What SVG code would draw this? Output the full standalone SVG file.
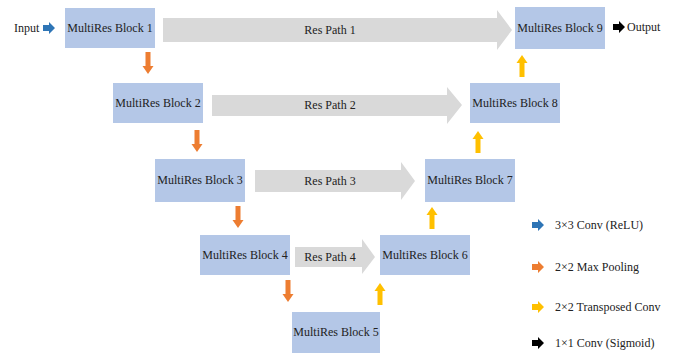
<svg xmlns="http://www.w3.org/2000/svg" width="674" height="358" viewBox="0 0 674 358">
<style>
.blk{fill:#b4c7e7}
text{font-family:'Liberation Serif','Tinos','DejaVu Serif',serif;font-size:12px;fill:#222}
.t{text-anchor:middle}
.rp{fill:#d9d9d9}
.or{fill:#ed7d31}.ye{fill:#ffc000}.bl{fill:#2e75b6}.bk{fill:#000}
</style>
<defs>
<path id="ar" d="M0,-3 H6 V-6 L12,0 L6,6 V3 H0 Z"/>
<path id="dn" d="M-2.5,0 H2.5 V14 H5.5 L0,22 L-5.5,14 H-2.5 Z"/>
<path id="up" d="M-2.5,22 H2.5 V8 H5.5 L0,0 L-5.5,8 H-2.5 Z"/>
</defs>
<rect width="674" height="358" fill="#fff"/>
<g id="connectors">
<g id="respath1"><polygon class="rp" points="163,18 497,18 497,10 512,30 497,50 497,42 163,42"/><text class="t" x="330" y="34" font-family="Liberation Serif, serif">Res Path 1</text></g>
<g id="respath2"><polygon class="rp" points="212,95 447,95 447,87 462,105 447,124 447,116 212,116"/><text class="t" x="330" y="109">Res Path 2</text></g>
<g id="respath3"><polygon class="rp" points="255,170 401,170 401,162 415,181 401,200 401,192 255,192"/><text class="t" x="330" y="185">Res Path 3</text></g>
<g id="respath4"><polygon class="rp" points="295,247 362,247 362,239 375,257 362,274 362,267 295,267"/><text class="t" x="330" y="261">Res Path 4</text></g>
<use href="#ar" class="bl" x="43" y="28"/>
<use href="#ar" class="bk" x="613" y="27"/>
<use href="#dn" class="or" x="148" y="52"/>
<use href="#dn" class="or" x="197" y="130"/>
<use href="#dn" class="or" x="238" y="206"/>
<use href="#dn" class="or" x="288" y="280"/>
<use href="#up" class="ye" x="380" y="283"/>
<use href="#up" class="ye" x="432" y="207"/>
<use href="#up" class="ye" x="478" y="131"/>
<use href="#up" class="ye" x="522" y="55"/>
</g>
<text x="14" y="32">Input</text>
<text x="627" y="31">Output</text>
<g id="block1"><rect class="blk" x="65" y="8" width="90" height="40"/><text class="t" x="110" y="32">MultiRes Block 1</text></g>
<g id="block2"><rect class="blk" x="113" y="83" width="90" height="40"/><text class="t" x="158" y="107">MultiRes Block 2</text></g>
<g id="block3"><rect class="blk" x="155" y="159" width="90" height="43"/><text class="t" x="200" y="184">MultiRes Block 3</text></g>
<g id="block4"><rect class="blk" x="200" y="235" width="90" height="40"/><text class="t" x="245" y="259">MultiRes Block 4</text></g>
<g id="block5"><rect class="blk" x="292" y="312" width="88" height="41"/><text class="t" x="336" y="336">MultiRes Block 5</text></g>
<g id="block6"><rect class="blk" x="380" y="235" width="90" height="40"/><text class="t" x="425" y="259">MultiRes Block 6</text></g>
<g id="block7"><rect class="blk" x="425" y="159" width="90" height="43"/><text class="t" x="470" y="184">MultiRes Block 7</text></g>
<g id="block8"><rect class="blk" x="470" y="83" width="90" height="40"/><text class="t" x="515" y="107">MultiRes Block 8</text></g>
<g id="block9"><rect class="blk" x="515" y="7" width="90" height="42"/><text class="t" x="560" y="32">MultiRes Block 9</text></g>
<g id="legend">
<use href="#ar" class="bl" x="532" y="225"/><text x="555" y="229">3×3 Conv (ReLU)</text>
<use href="#ar" class="or" x="532" y="267"/><text x="555" y="271">2×2 Max Pooling</text>
<use href="#ar" class="ye" x="532" y="307"/><text x="555" y="311">2×2 Transposed Conv</text>
<use href="#ar" class="bk" x="532" y="343"/><text x="555" y="347">1×1 Conv (Sigmoid)</text>
</g>
</svg>
